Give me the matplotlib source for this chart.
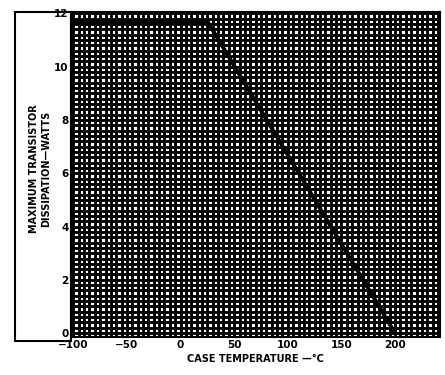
import numpy as np
import matplotlib.pyplot as plt
from matplotlib.patches import Rectangle

# derating curve: case temperature (C) vs max dissipation (W)
temp = [-100, 25, 200]
watts = [11.7, 11.7, 0]
xticks = [-100, -50, 0, 50, 100, 150, 200]
yticks = [0, 2, 4, 6, 8, 10, 12]

fig = plt.figure(figsize=(4.45, 3.75), dpi=100)
ax = fig.add_axes([0.16, 0.101, 0.829, 0.867])

ax.set_xlim(-102, 242)
ax.set_ylim(-0.15, 12.05)

ax.set_xticks(xticks)
ax.set_yticks(yticks)

# dense black graph-paper grid
ax.set_xticks(np.arange(-100, 245, 5), minor=True)
ax.set_yticks(np.arange(0, 12.1, 0.2), minor=True)
ax.grid(which='both', color='black', linewidth=2.1, antialiased=True)
ax.set_axisbelow(True)

ax.plot(temp, watts, color='black', linewidth=2.8, solid_capstyle='butt')

ax.tick_params(which='both', length=0, labelsize=7.5, pad=2)
for lab in ax.get_xticklabels() + ax.get_yticklabels():
    lab.set_fontweight('heavy')
for s in ax.spines.values():
    s.set_linewidth(1.5)

ax.set_xlabel('CASE TEMPERATURE —°C', fontsize=7, fontweight='heavy', labelpad=3)
fig.text(0.09, 0.55, 'MAXIMUM TRANSISTOR\nDISSIPATION—WATTS', rotation=90,
         ha='center', va='center', fontsize=7, fontweight='heavy')

# border box around the y label
fig.patches.append(Rectangle((15 / 445, (375 - 341) / 375), 56 / 445, 329 / 375,
                             transform=fig.transFigure, fill=False,
                             edgecolor='black', linewidth=1.5))

fig.savefig('out.png', dpi=100)
